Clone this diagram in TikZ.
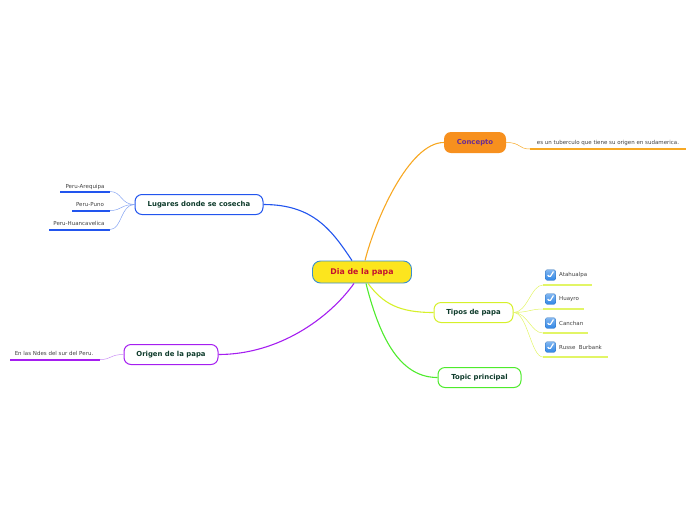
\documentclass[tikz,border=0pt]{standalone}
\usepackage{fontspec}
\setmainfont{DejaVu Sans}
\begin{document}
\begin{tikzpicture}[x=1pt,y=-1pt,
  topic/.style={draw, rounded corners=7pt, line width=1pt, fill=white, minimum height=20pt, inner xsep=8pt, font=\bfseries\fontsize{6.9}{8}\selectfont, text=txtgreen},
  leaf/.style={font=\fontsize{5.5}{6}\selectfont, text=black!75, inner sep=1pt},
  conn/.style={line width=1.1pt},
  sub/.style={line width=0.5pt},
  uline/.style={line width=2pt},
  chk/.style={top color=chkblue!60!white, bottom color=chkblue, draw=chkblue!80!black, line width=0.2pt, rounded corners=1.5pt, minimum size=10.5pt, inner sep=0pt, path picture={\draw[white, line width=1.2pt] ([xshift=-2.8pt,yshift=0pt]path picture bounding box.center) -- ([xshift=-0.8pt,yshift=-2.5pt]path picture bounding box.center) -- ([xshift=3pt,yshift=3.5pt]path picture bounding box.center);}}
]
\definecolor{txtgreen}{HTML}{0E3B2B}
\definecolor{cyel}{HTML}{FCE51E}
\definecolor{cborder}{HTML}{3A8FD0}
\definecolor{cred}{HTML}{C4122F}
\definecolor{corange}{HTML}{F7901E}
\definecolor{orline}{HTML}{F7A823}
\definecolor{cpurpletxt}{HTML}{6B2D91}
\definecolor{cblue}{HTML}{2255EE}
\definecolor{lblue}{HTML}{86A4F2}
\definecolor{cpurple}{HTML}{A51EF0}
\definecolor{lpurple}{HTML}{C98CF6}
\definecolor{cyg}{HTML}{D6F02A}
\definecolor{lyg}{HTML}{E2F566}
\definecolor{cgreen}{HTML}{4EEB2C}
\definecolor{chkblue}{HTML}{2F86E6}

\useasboundingbox (0,0) rectangle (696,520);

% central
\node[draw=cborder, fill=cyel, rounded corners=8pt, line width=0.9pt, minimum width=99pt, minimum height=22pt, font=\bfseries\fontsize{7.8}{9}\selectfont, text=cred] (c) at (362,272) {Dia de la papa};

% topics
\node[fill=corange, rounded corners=7pt, minimum width=62pt, minimum height=21pt, font=\bfseries\fontsize{6.9}{8}\selectfont, text=cpurpletxt] (con) at (475,142.5) {Concepto};
\node[topic, draw=cblue, minimum width=128pt] (lug) at (199,204.5) {Lugares donde se cosecha};
\node[topic, draw=cpurple, minimum width=94pt] (ori) at (171,354.5) {Origen de la papa};
\node[topic, draw=cyg, minimum width=79pt] (tip) at (473.5,312.5) {Tipos de papa};
\node[topic, draw=cgreen, minimum width=83pt] (top) at (479.5,377.5) {Topic principal};

% main connectors
\draw[conn, orline] ([xshift=3pt]c.north) .. controls +(10,-40) and +(-35,0) .. (con.west);
\draw[conn, cblue] ([xshift=-10pt]c.north) .. controls +(-20,-30) and +(50,0) .. (lug.east);
\draw[conn, cpurple] ([xshift=-8pt]c.south) .. controls +(-25,35) and +(60,0) .. (ori.east);
\draw[conn, cyg] ([xshift=6pt]c.south) .. controls +(15,20) and +(-35,0) .. (tip.west);
\draw[conn, cgreen] ([xshift=4pt]c.south) .. controls +(15,60) and +(-35,0) .. (top.west);

% Concepto leaf
\node[leaf, anchor=base] (t1) at (608,144) {es un tuberculo que tiene su origen en sudamerica.};
\coordinate (u1a) at (530,149); \coordinate (u1b) at (686,149);
\draw[sub, orline] (con.east) .. controls +(15,0) and +(-12,0) .. (u1a);
\draw[uline, orline] (u1a) -- (u1b);

% Lugares leaves
\node[leaf, anchor=base] (l1) at (85,188) {Peru-Arequipa};
\coordinate (l1a) at (60,191.5); \coordinate (l1b) at (110,191.5);
\node[leaf, anchor=base] (l2) at (90,206) {Peru-Puno};
\coordinate (l2a) at (72,210.5); \coordinate (l2b) at (110,210.5);
\node[leaf, anchor=base] (l3) at (79,225) {Peru-Huancavelica};
\coordinate (l3a) at (49,229.5); \coordinate (l3b) at (110,229.5);
\foreach \a/\b in {l1a/l1b,l2a/l2b,l3a/l3b}{
  \draw[uline, cblue] (\a) -- (\b);
  \draw[sub, lblue] (lug.west) .. controls +(-14,0) and +(12,0) .. (\b);
}

% Origen leaf
\node[leaf, anchor=base] (o1) at (54,355) {En las Ndes del sur del Peru.};
\coordinate (o1a) at (10,359.5); \coordinate (o1b) at (100,359.5);
\draw[uline, cpurple] (o1a) -- (o1b);
\draw[sub, lpurple] (ori.west) .. controls +(-14,0) and +(12,0) .. (o1b);

% Tipos leaves
\foreach \i/\y/\t/\e in {1/275/Atahualpa/592, 2/299/Huayro/584, 3/323/Canchan/588, 4/347/Russe\ \ Burbank/608}{
  \node[chk] (k\i) at (550.5,\y) {};
  \node[leaf, anchor=west] (p\i) at (558,\y) {\t};
  \coordinate (pa\i) at (543,\y+10);
  \coordinate (pb\i) at (\e,\y+10);
  \draw[uline, lyg] (pa\i) -- (pb\i);
  \draw[sub, lyg] (tip.east) .. controls +(14,0) and +(-12,0) .. (pa\i);
}
\end{tikzpicture}
\end{document}
